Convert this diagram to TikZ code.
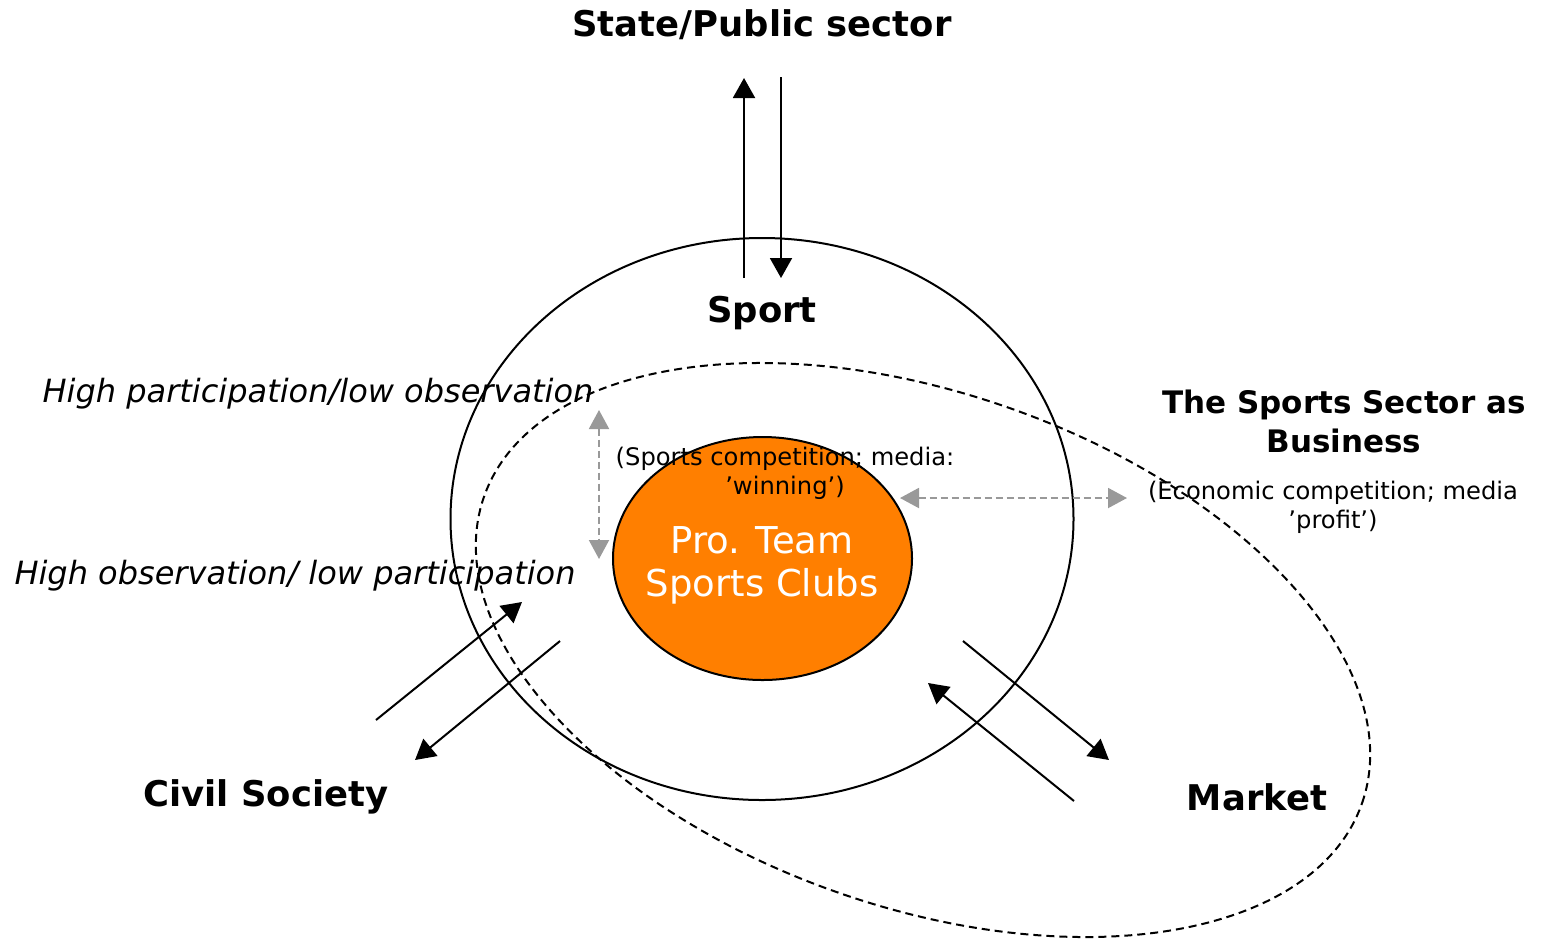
\documentclass[tikz,border=0pt]{standalone}
\usepackage{fontspec}
\setmainfont{DejaVu Sans}
\usetikzlibrary{arrows.meta, positioning, shapes.geometric}
\definecolor{clubfill}{HTML}{FF7F00}
\definecolor{linkgray}{HTML}{999999}

\begin{document}
\begin{tikzpicture}[
        x=0.5pt, y=-0.5pt,
        line width=1pt,
        head/.style = {font=\bfseries\fontsize{17.7}{21}\selectfont, align=center},
        subhead/.style = {font=\bfseries\fontsize{15.5}{19.5}\selectfont, align=center},
        note/.style = {font=\fontsize{12.1}{14.5}\selectfont, align=center},
        level/.style = {font=\itshape\fontsize{16}{19}\selectfont},
        ring/.style = {draw, ellipse, inner sep=0pt},
        flow/.style = {-{Triangle[length=10pt, width=11pt]}},
        link/.style = {{Triangle[length=9.5pt, width=10pt]}-{Triangle[length=9.5pt, width=10pt]},
                       linkgray, dash pattern=on 3.5pt off 2pt},
        ]
        \useasboundingbox (0,0) rectangle (1547,939);

        \node [ring, minimum width=311.5pt, minimum height=281pt] (sport) at (762,519) {};
        \node [ring, dash pattern=on 4pt off 2.5pt, rotate=-19.25,
               minimum width=465pt, minimum height=257pt] (business) at (923,650) {};
        \node [ring, fill=clubfill, minimum width=149.5pt, minimum height=121.5pt]
              (clubs) at (762.5,558.5) {};
        \node [text=white, align=center, font=\fontsize{18.5}{21.5}\selectfont]
              (clubname) at (762,565) {Pro. Team\\Sports Clubs};

        \node [head] (state) at (762,25) {State/Public sector};
        \node [head] (sporttitle) at (762,313) {Sport};
        \node [head] (civil) at (266,797) {Civil Society};
        \node [head] (market) at (1257,797) {Market};
        \node [subhead] (sector) at (1344,421) {The Sports Sector as\\Business};
        \node [note] (profit) at (1333,507) {(Economic competition; media\\’profit’)};
        \node [note] (winning) at (785,473) {(Sports competition; media:\\’winning’)};
        \node [level] (participation) at (318,394) {High participation/low observation};
        \node [level] (observation) at (295,576) {High observation/ low participation};

        \coordinate (stateout) at (744,278);
        \coordinate (statetip) at (744,78);
        \coordinate (statein) at (781,77);
        \coordinate (sporttip) at (781,278);
        \coordinate (civilout) at (376,720);
        \coordinate (civiltip) at (522,602);
        \coordinate (civilin) at (560,641);
        \coordinate (societytip) at (415,760);
        \coordinate (marketin) at (963,641);
        \coordinate (markettip) at (1109,760);
        \coordinate (marketout) at (1074,801);
        \coordinate (clubtip) at (928,683);
        \coordinate (winleft) at (900,498);
        \coordinate (profitright) at (1127,498);
        \coordinate (parttop) at (599,410);
        \coordinate (obsbottom) at (599,559);

        \draw [flow] (stateout) -- (statetip);
        \draw [flow] (statein) -- (sporttip);
        \draw [flow] (civilout) -- (civiltip);
        \draw [flow] (civilin) -- (societytip);
        \draw [flow] (marketin) -- (markettip);
        \draw [flow] (marketout) -- (clubtip);
        \draw [link] (winleft) -- (profitright);
        \draw [link] (parttop) -- (obsbottom);
    \end{tikzpicture}
\end{document}
